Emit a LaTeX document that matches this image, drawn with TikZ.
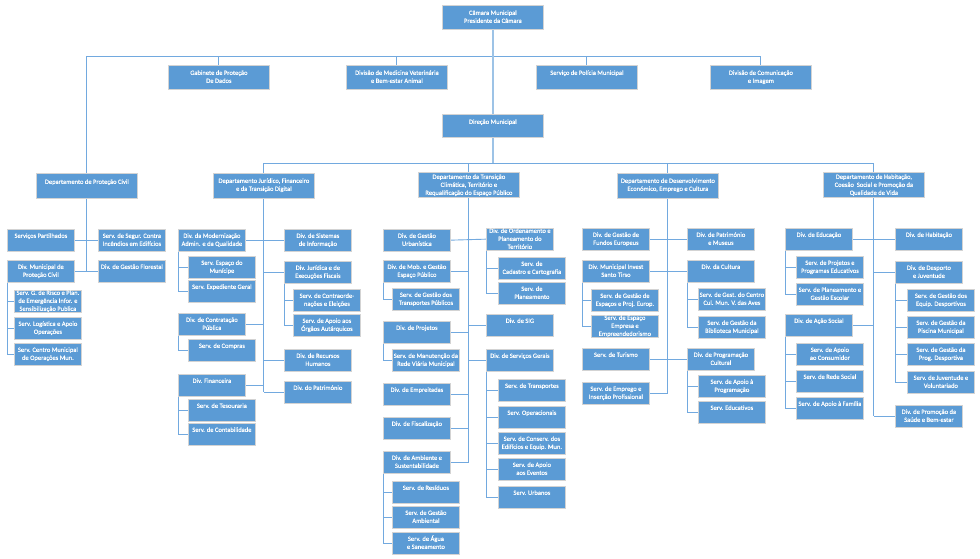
\documentclass[tikz,border=0pt]{standalone}
\usepackage{fontspec}
\setmainfont{Carlito}
\newfontfamily\boxfont{Carlito}[FakeBold=0.3]
\usetikzlibrary{backgrounds}
\definecolor{boxblue}{HTML}{5B9BD5}
\definecolor{boxline}{HTML}{D3D3D3}
\definecolor{connc}{HTML}{72A9DF}
\definecolor{trunkc}{HTML}{9DC3E6}
\tikzset{
  obox/.style={draw=boxline, fill=boxblue, line width=0.8pt, inner sep=0pt, anchor=north west, text=white, font=\boxfont\fontsize{6.5}{8}\selectfont},
  conn/.style={draw=connc, line width=0.9pt},
  trunk/.style={draw=trunkc, line width=1.8pt}
}
% name, x, y, w, h, vspace, text
\newcommand\gbx[7]{\node[obox] (#1) at (#2,#3) {\parbox[c][#5pt][t]{#4pt}{\centering\vspace*{#6pt}\strut#7\par}};}
\newcommand\ub[5][2.9]{\gbx{#2}{#3}{#4}{67}{21.5}{#1}{#5}}
\newcommand\tb[5][3.9]{\gbx{#2}{#3}{#4}{101}{24}{#1}{#5}}
\newcommand\db[5][3.9]{\gbx{#2}{#3}{#4}{101}{25}{#1}{#5}}
\begin{document}
\begin{tikzpicture}[x=1pt,y=-1pt]
\useasboundingbox (0,0) rectangle (980,558);
\coordinate (tl) at (0,56);
\coordinate (dl) at (0,163);
% top
\tb{cam}{442}{5}{Câmara Municipal\\Presidente da Câmara}
\tb{gab}{168}{65}{Gabinete de Proteção\\De Dados}
\tb{med}{346}{65}{Divisão de Medicina Veterinária\\e Bem-estar Animal}
\tb{pol}{536}{65}{Serviço de Polícia Municipal}
\tb{com}{710}{65}{Divisão de Comunicação\\e Imagem}
\gbx{dir}{442}{114}{101}{23}{3.9}{Direção Municipal}
% departments
\db[4.9]{dpc}{36}{173}{Departamento de Proteção Civil}
\db{dj}{213}{173}{Departamento Jurídico, Financeiro\\e da Transição Digital}
\db[0.9]{dt}{418}{172}{Departamento da Transição\\Climática, Território e\\Requalificação do Espaço Público}
\db{dd}{617}{173}{Departamento de Desenvolvimento\\Económico, Emprego e Cultura}
\db[0.9]{dh}{823}{172}{Departamento de Habitação,\\Coesão~ Social e Promoção da\\Qualidade de Vida}
% Proteção Civil
\ub{spa}{7}{229}{Serviços Partilhados}
\ub{sgi}{98}{229}{Serv. de Segur. Contra\\Incêndios em Edifícios}
\ub{dmpc}{7}{260}{Div. Municipal de\\Proteção Civil}
\ub{dgf}{98}{260}{Div. de Gestão Florestal}
\ub[-1.1]{sgr}{14}{290}{Serv. G. de Risco e Plan.\\de Emergência Infor. e\\Sensibilização Publica}
\ub{slo}{14}{317}{Serv. Logística e Apoio\\Operações}
\ub{scm}{14}{343}{Serv. Centro Municipal\\de Operações Mun.}
% Jurídico
\ub{dmod}{178}{229}{Div. da Modernização\\Admin. e da Qualidade}
\ub{dsi}{284}{229}{Div. de Sistemas\\de Informação}
\ub{sem}{188}{256}{Serv. Espaço do\\Munícipe}
\ub{seg}{188}{280}{Serv. Expediente Geral}
\ub{djur}{284}{261}{Div. Jurídica e de\\Execuções Fiscais}
\ub{sce}{293}{289}{Serv. de Contraorde-\\nações e Eleições}
\ub{sao}{293}{314}{Serv. de Apoio aos\\Órgãos Autárquicos}
\ub{dcp}{178}{313}{Div. de Contratação\\Pública}
\ub{scmp}{188}{339}{Serv. de Compras}
\ub{drh}{284}{349}{Div. de Recursos\\Humanos}
\ub{dfin}{178}{374}{Div. Financeira}
\ub{dpat}{284}{381}{Div. do Património}
\ub{stes}{188}{399}{Serv. de Tesouraria}
\ub{scon}{188}{423}{Serv. de Contabilidade}
% Transição
\ub{dgu}{383}{229}{Div. de Gestão\\Urbanística}
\ub[-1.1]{dot}{486}{228}{Div. de Ordenamento e\\Planeamento do\\Território}
\ub{scc}{498}{257}{Serv. de\\Cadastro e Cartografia}
\ub{spl}{498}{282}{Serv. de\\Planeamento}
\ub{dmob}{383}{260}{Div. de Mob. e Gestão\\Espaço Público}
\ub{sgtp}{392}{288}{Serv. de Gestão dos\\Transportes Públicos}
\ub{dproj}{383}{321}{Div. de Projetos}
\ub{dsig}{486}{314}{Div. de SIG}
\ub{smrv}{392}{349}{Serv. de Manutenção da\\Rede Viária Municipal}
\ub{dsg}{486}{349}{Div. de Serviços Gerais}
\ub{demp}{383}{383}{Div. de Empreitadas}
\ub{dfis}{383}{417}{Div. de Fiscalização}
\ub{damb}{383}{451}{Div. de Ambiente e\\Sustentabilidade}
\ub{sres}{392}{481}{Serv. de Resíduos}
\ub{sga}{392}{506}{Serv. de Gestão\\Ambiental}
\ub{sags}{392}{532}{Serv. de Água\\e Saneamento}
\ub{stra}{498}{379}{Serv. de Transportes}
\ub{sop}{498}{406}{Serv. Operacionais}
\ub{scde}{498}{432}{Serv. de Conserv. dos\\Edifícios e Equip. Mun.}
\ub{sae}{498}{458}{Serv. de Apoio\\aos Eventos}
\ub{surb}{498}{486}{Serv. Urbanos}
% Desenvolvimento
\ub{dgfe}{582}{228}{Div. de Gestão de\\Fundos Europeus}
\ub{dpm}{687}{228}{Div. de Património\\e Museus}
\ub{dmist}{582}{260}{Div. Municipal Invest\\Santo Tirso}
\ub{dcul}{687}{260}{Div. da Cultura}
\ub{sgep}{591}{289}{Serv. de Gestão de\\Espaços e Proj. Europ.}
\ub[-1.1]{seee}{591}{315}{Serv. de Espaço\\Empresa e\\Empreendedorismo}
\ub{sgcc}{698}{288}{Serv. de Gest. do Centro\\Cul. Mun. V. das Aves}
\ub{sgbm}{698}{316}{Serv. de Gestão da\\Biblioteca Municipal}
\ub{stur}{582}{348}{Serv. de Turismo}
\ub{dprc}{687}{348}{Div. de Programação\\Cultural}
\ub{seip}{582}{382}{Serv. de Emprego e\\Inserção Profissional}
\ub{sapr}{698}{375}{Serv. de Apoio à\\Programação}
\ub{sedu}{698}{401}{Serv. Educativos}
% Habitação
\ub{dedu}{785}{228}{Div. de Educação}
\ub{dhab}{895}{228}{Div. de Habitação}
\ub{sppe}{796}{256}{Serv. de Projetos e\\Programas Educativos}
\ub{spge}{796}{283}{Serv. de Planeamento e\\Gestão Escolar}
\ub{ddj}{895}{261}{Div. de Desporto\\e Juventude}
\ub{sged}{907}{289}{Serv. de Gestão dos\\Equip. Desportivos}
\ub{sgpm}{907}{316}{Serv. de Gestão da\\Piscina Municipal}
\ub{sgpd}{907}{343}{Serv. de Gestão da\\Prog. Desportiva}
\ub{sjv}{907}{371}{Serv. de Juventude e\\Voluntariado}
\ub{das}{785}{314}{Div. de Ação Social}
\ub{sac}{796}{343}{Serv. de Apoio\\ao Consumidor}
\ub{srs}{796}{370}{Serv. de Rede Social}
\ub{saf}{796}{397}{Serv. de Apoio à Família}
\ub{dps}{895}{405}{Div. de Promoção da\\Saúde e Bem-estar}
% connectors
\begin{pgfonlayer}{background}
\draw[conn] (dpc.north) -- (dpc.north |- tl) -- (com.north |- tl) -- (com.north);
\foreach \n in {gab,med,pol} \draw[conn] (\n.north) -- (\n.north |- tl);
\draw[conn] (dj.north) -- (dj.north |- dl) -- (dh.north |- dl) -- (dh.north);
\foreach \n in {dt,dd} \draw[conn] (\n.north) -- (\n.north |- dl);
\draw[trunk] (cam.south) -- (dir.north);
\draw[trunk] (dir.south) -- (dir.south |- dl);
% Proteção Civil
\draw[conn] (dpc.south) -- (dpc.south |- dmpc.east);
\draw[conn] (spa.east) -- (sgi.west);
\draw[conn] (dmpc.east) -- (dgf.west);
\foreach \n in {sgr,slo,scm} \draw[conn] (dmpc.south west) |- (\n.west);
% Jurídico
\draw[conn] (dj.south) -- (dj.south |- dpat.west);
\draw[conn] (dmod.east) -- (dsi.west);
\foreach \n in {djur,drh,dpat} \draw[conn] (\n.west) -- (\n.west -| dj.south);
\foreach \n in {dcp,dfin} \draw[conn] (\n.east) -- (\n.east -| dj.south);
\foreach \n in {sem,seg} \draw[conn] (dmod.south west) |- (\n.west);
\foreach \n in {sce,sao} \draw[conn] (djur.south west) |- (\n.west);
\draw[conn] (dcp.south west) |- (scmp.west);
\foreach \n in {stes,scon} \draw[conn] (dfin.south west) |- (\n.west);
% Transição
\draw[conn] (dt.south) -- (dt.south |- damb.east);
\draw[conn] (dgu.east) -- (dot.west);
\foreach \n in {dmob,dproj,demp,dfis,damb} \draw[conn] (\n.east) -- (\n.east -| dt.south);
\foreach \n in {dsig,dsg} \draw[conn] (\n.west) -- (\n.west -| dt.south);
\foreach \n in {scc,spl} \draw[conn] (dot.south west) |- (\n.west);
\draw[conn] (dmob.south west) |- (sgtp.west);
\draw[conn] (dproj.south west) |- (smrv.west);
\foreach \n in {sres,sga,sags} \draw[conn] (damb.south west) |- (\n.west);
\foreach \n in {stra,sop,scde,sae,surb} \draw[conn] (dsg.south west) |- (\n.west);
% Desenvolvimento
\draw[conn] (dd.south) -- (dd.south |- seip.east);
\draw[conn] (dgfe.east) -- (dpm.west);
\draw[conn] (dmist.east) -- (dcul.west);
\draw[conn] (stur.east) -- (dprc.west);
\draw[conn] (seip.east) -- (seip.east -| dd.south);
\foreach \n in {sgep,seee} \draw[conn] (dmist.south west) |- (\n.west);
\foreach \n in {sgcc,sgbm} \draw[conn] (dcul.south west) |- (\n.west);
\foreach \n in {sapr,sedu} \draw[conn] (dprc.south west) |- (\n.west);
% Habitação
\draw[conn] (dh.south) -- (dh.south |- dps.west);
\draw[conn] (dedu.east) -- (dhab.west);
\foreach \n in {ddj,dps} \draw[conn] (\n.west) -- (\n.west -| dh.south);
\draw[conn] (das.east) -- (das.east -| dh.south);
\foreach \n in {sppe,spge} \draw[conn] (dedu.south west) |- (\n.west);
\foreach \n in {sged,sgpm,sgpd,sjv} \draw[conn] (ddj.south west) |- (\n.west);
\foreach \n in {sac,srs,saf} \draw[conn] (das.south west) |- (\n.west);
\end{pgfonlayer}
\end{tikzpicture}
\end{document}
